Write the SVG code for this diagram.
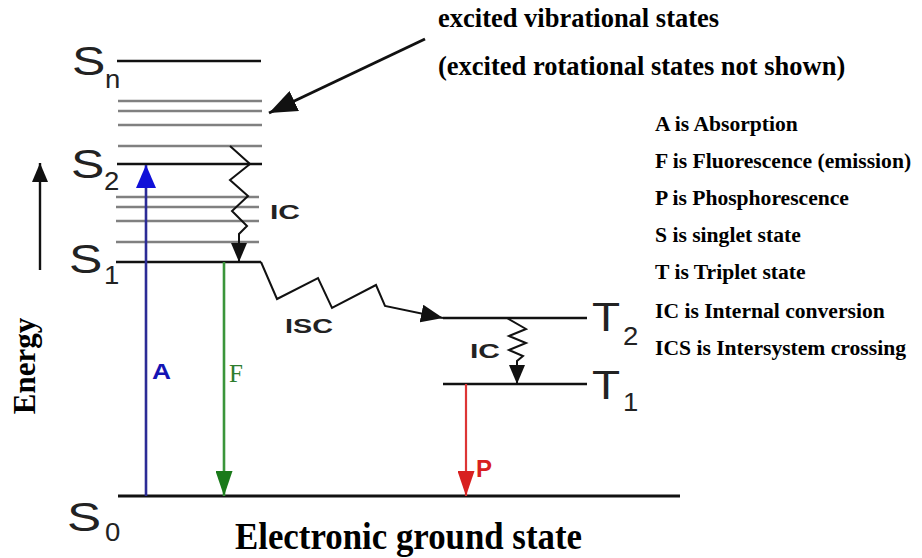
<svg xmlns="http://www.w3.org/2000/svg" width="922" height="558" viewBox="0 0 922 558">
<style>
.lvl{stroke:#111;stroke-width:2.6;fill:none}
.vib{stroke:#808080;stroke-width:2.3;fill:none}
.zz{stroke:#111;stroke-width:2;fill:none;stroke-linejoin:miter}
.st{font-family:"Liberation Sans",Arial,sans-serif;fill:#222;font-size:40px}
.sub{font-family:"Liberation Sans",Arial,sans-serif;fill:#222;font-size:25px}
.pl{font-family:"Liberation Sans",Arial,sans-serif;font-weight:bold;font-size:21px}
.ser{font-family:"Liberation Serif","Times New Roman",serif;font-weight:bold;fill:#000}
</style>
<defs>
<marker id="ah-k" markerUnits="userSpaceOnUse" viewBox="0 0 22 18" refX="22" refY="9" markerWidth="22" markerHeight="18" orient="auto"><path d="M0,0 L22,9 L0,18 z" fill="#111"/></marker>
<marker id="ah-ks" markerUnits="userSpaceOnUse" viewBox="0 0 19 16" refX="19" refY="8" markerWidth="19" markerHeight="16" orient="auto"><path d="M0,0 L19,8 L0,16 z" fill="#111"/></marker>
<marker id="ah-b" markerUnits="userSpaceOnUse" viewBox="0 0 23 20" refX="23" refY="10" markerWidth="23" markerHeight="20" orient="auto"><path d="M0,0 L23,10 L0,20 z" fill="#1010d8"/></marker>
<marker id="ah-g" markerUnits="userSpaceOnUse" viewBox="0 0 25 17" refX="25" refY="8.5" markerWidth="25" markerHeight="17" orient="auto"><path d="M0,0 L25,8.5 L0,17 z" fill="#1a7a1a"/></marker>
<marker id="ah-r" markerUnits="userSpaceOnUse" viewBox="0 0 25 17" refX="25" refY="8.5" markerWidth="25" markerHeight="17" orient="auto"><path d="M0,0 L25,8.5 L0,17 z" fill="#d82020"/></marker>
<marker id="ah-p" markerUnits="userSpaceOnUse" viewBox="0 0 28 22" refX="28" refY="11" markerWidth="28" markerHeight="22" orient="auto"><path d="M0,0 L28,11 L0,22 z" fill="#111"/></marker>
</defs>

<g id="level-Sn">
<line class="lvl" x1="117" y1="61" x2="261" y2="61"/>
<text class="st" transform="translate(72,75) scale(1.25,1)">S</text>
<text class="sub" transform="translate(105,88) scale(1.1,1)">n</text>
</g>
<g id="vib-Sn">
<line class="vib" x1="118" y1="101" x2="262" y2="101"/>
<line class="vib" x1="118" y1="111" x2="262" y2="111"/>
<line class="vib" x1="118" y1="125" x2="262" y2="125"/>
<line class="vib" x1="118" y1="146" x2="262" y2="146"/>
</g>
<g id="level-S2">
<line class="lvl" x1="117" y1="164" x2="262" y2="164"/>
<text class="st" transform="translate(71,178) scale(1.25,1)">S</text>
<text class="sub" transform="translate(104,190) scale(1.1,1)">2</text>
</g>
<g id="vib-S2">
<line class="vib" x1="116" y1="197" x2="259" y2="197"/>
<line class="vib" x1="116" y1="207" x2="259" y2="207"/>
<line class="vib" x1="116" y1="221" x2="259" y2="221"/>
<line class="vib" x1="116" y1="242" x2="259" y2="242"/>
</g>
<g id="level-S1">
<line class="lvl" x1="116" y1="262" x2="261" y2="262"/>
<text class="st" transform="translate(69,273) scale(1.25,1)">S</text>
<text class="sub" transform="translate(104,284) scale(1.1,1)">1</text>
</g>
<g id="level-T2">
<line class="lvl" x1="443" y1="318" x2="587" y2="318"/>
<text class="st" transform="translate(592,331) scale(1.15,1)">T</text>
<text class="sub" transform="translate(623,345) scale(1.1,1)">2</text>
</g>
<g id="level-T1">
<line class="lvl" x1="443" y1="384" x2="587" y2="384"/>
<text class="st" transform="translate(592,399) scale(1.15,1)">T</text>
<text class="sub" transform="translate(623,411) scale(1.1,1)">1</text>
</g>
<g id="level-S0">
<line class="lvl" x1="118" y1="496" x2="680" y2="496" style="stroke-width:3"/>
<text class="st" transform="translate(67,531) scale(1.28,1)">S</text>
<text class="sub" transform="translate(105,541) scale(1.1,1)">0</text>
</g>

<g id="connectors">
<line x1="146" y1="496" x2="146" y2="165" stroke="#2c2c96" stroke-width="2.6" marker-end="url(#ah-b)"/>
<line x1="224" y1="262" x2="224" y2="496" stroke="#3a953a" stroke-width="2.6" marker-end="url(#ah-g)"/>
<line x1="466" y1="384" x2="466" y2="496" stroke="#dd3535" stroke-width="2.2" marker-end="url(#ah-r)"/>
<polyline class="zz" points="230,146 250,164 230,180 248,196 232,211 247,226 239,234 239,244 239,262" marker-end="url(#ah-ks)"/>
<polyline class="zz" points="261,262 277,299 318,278 332,308 376,285 385,306 443,318" marker-end="url(#ah-k)"/>
<polyline class="zz" points="507,318 526,329 509,336 526,343 509,350 523,356 517,361 517,366 517,384" marker-end="url(#ah-ks)"/>
<line x1="425" y1="39" x2="269" y2="113" stroke="#111" stroke-width="3" marker-end="url(#ah-p)"/>
<line x1="40" y1="270" x2="40" y2="163" stroke="#111" stroke-width="2.4" marker-end="url(#ah-ks)"/>
</g>

<g id="labels">
<text class="pl" x="270" y="219" fill="#222" textLength="30" lengthAdjust="spacingAndGlyphs">IC</text>
<text class="pl" x="285" y="333" fill="#222" textLength="48" lengthAdjust="spacingAndGlyphs">ISC</text>
<text class="pl" x="470" y="358" fill="#222" textLength="30" lengthAdjust="spacingAndGlyphs">IC</text>
<text class="pl" x="152" y="379" fill="#1414b4" style="font-size:22px" textLength="19" lengthAdjust="spacingAndGlyphs">A</text>
<text x="229" y="382" font-family="Liberation Serif,serif" font-size="25" fill="#2e7d2e">F</text>
<text class="pl" x="476" y="477" fill="#d82020" style="font-size:24px">P</text>
</g>

<g id="notes">
<text class="ser" x="438" y="27" font-size="26.5">excited vibrational states</text>
<text class="ser" x="438" y="75" font-size="26.5">(excited rotational states not shown)</text>
<g font-size="21.6">
<text class="ser" x="655" y="131">A is Absorption</text>
<text class="ser" x="655" y="168">F is Fluorescence (emission)</text>
<text class="ser" x="655" y="205">P is Phosphorescence</text>
<text class="ser" x="655" y="242">S is singlet state</text>
<text class="ser" x="655" y="279">T is Triplet state</text>
<text class="ser" x="655" y="318">IC is Internal conversion</text>
<text class="ser" x="655" y="355">ICS is Intersystem crossing</text>
</g>
<text class="ser" transform="translate(35,366) rotate(-90)" text-anchor="middle" font-size="31">Energy</text>
<text class="ser" x="235" y="549" font-size="37" textLength="347" lengthAdjust="spacingAndGlyphs">Electronic ground state</text>
</g>
</svg>
